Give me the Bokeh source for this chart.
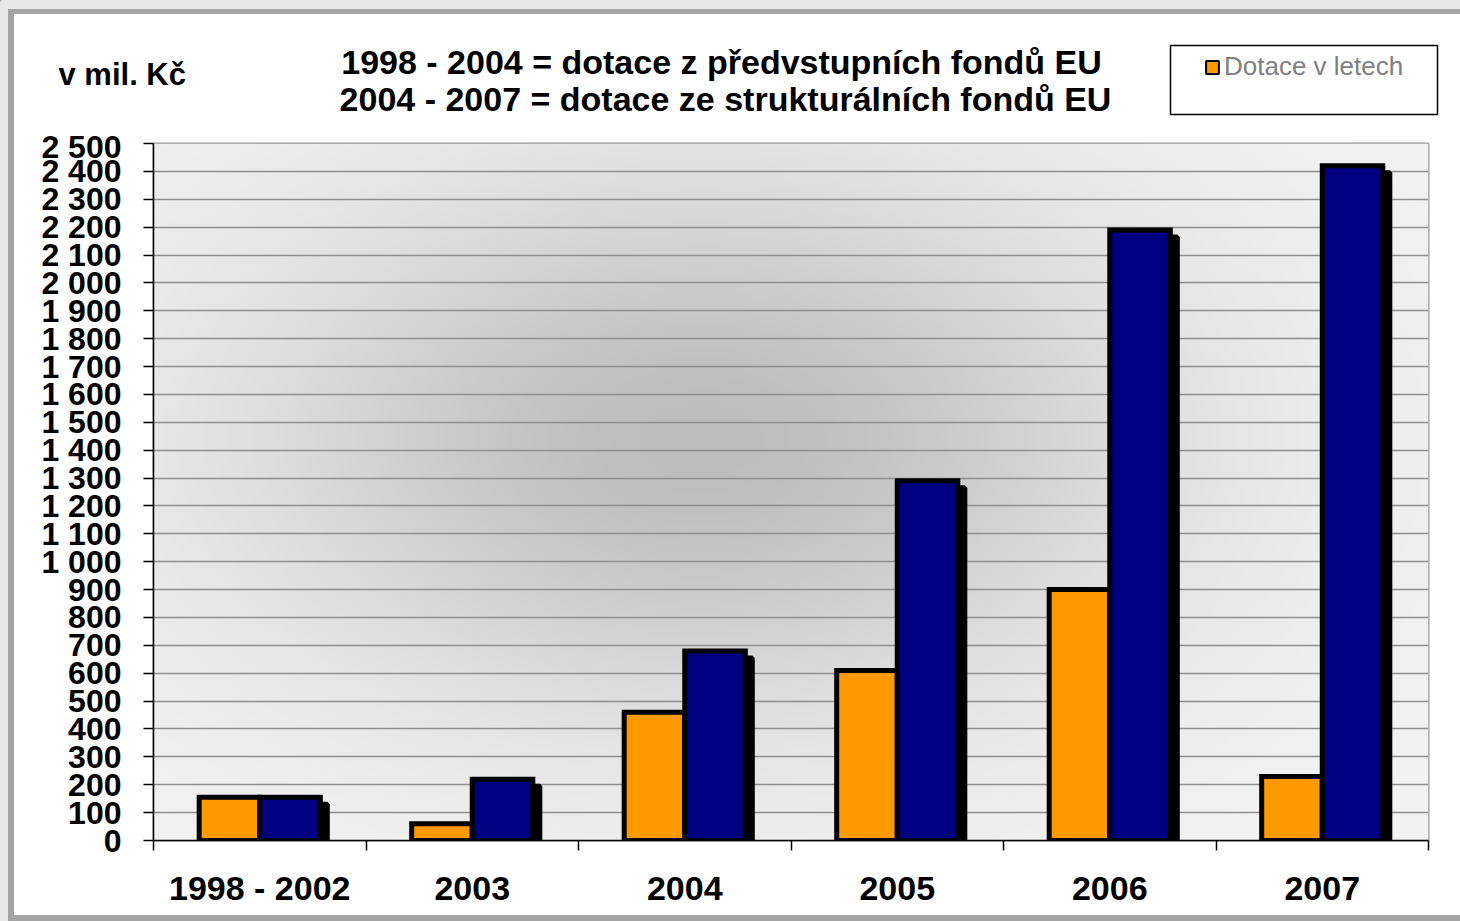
import numpy as np
from bokeh.plotting import figure
from bokeh.layouts import column
from bokeh.models import Range1d, FixedTicker, Legend, LegendItem, ColumnDataSource
from bokeh.core.properties import value
from bokeh.transform import dodge
from bokeh.embed import file_html
from bokeh.resources import INLINE

# ---- data ----
categories = ["1998 - 2002", "2003", "2004", "2005", "2006", "2007"]
dotace_v_letech = [155, 60, 460, 610, 900, 230]         # orange
dotace_kumulativne = [155, 220, 680, 1290, 2190, 2420]  # navy
y_ticks = list(range(0, 2501, 100))
y_tick_labels = ["0", "100", "200", "300", "400", "500", "600", "700", "800", "900",
                 "1 000", "1 100", "1 200", "1 300", "1 400", "1 500", "1 600", "1 700",
                 "1 800", "1 900", "2 000", "2 100", "2 200", "2 300", "2 400", "2 500"]
title_lines = ["1998 - 2004 = dotace z předvstupních fondů EU",
               "2004 - 2007 = dotace ze strukturálních fondů EU"]
unit_label = "v mil. Kč"
legend_label = "Dotace v letech"

FONT = "Liberation Sans"
W = 1460
H_HEAD = 128
H_MAIN = 921 - H_HEAD

# ---------------- header (titles, unit, legend) ----------------
head = figure(width=W, height=H_HEAD, x_range=Range1d(0, W), y_range=Range1d(H_HEAD, 0),
              x_axis_type=None, y_axis_type=None, output_backend="svg",
              toolbar_location=None, min_border=0)
head.frame_align = False
head.outline_line_color = None
head.grid.visible = False
head.background_fill_alpha = 0
head.border_fill_alpha = 0

head.text(x=[721, 725], y=[61, 98], text=title_lines, text_align="center",
          text_baseline="middle", text_font=value(FONT), text_font_style="bold",
          text_font_size="34px", text_color="black")
head.text(x=[58], y=[74], text=[unit_label], text_align="left",
          text_baseline="middle", text_font=value(FONT), text_font_style="bold",
          text_font_size="31px", text_color="black")

# legend frame (decoration)
head.quad(left=[1170], right=[1437], top=[45], bottom=[114],
          fill_color="white", line_color="black", line_width=1.5)
# legend proxy for the orange series (kept outside the visible header range)
leg_r = head.vbar(x=[-500], top=[-400], bottom=[-450], width=1, fill_color="#FF9900",
                  line_color="black", line_width=2)
legend = Legend(items=[LegendItem(label=legend_label, renderers=[leg_r])],
                location=(1204, H_HEAD - 82), orientation="vertical",
                padding=0, margin=0, spacing=0,
                glyph_width=16, glyph_height=16, label_standoff=4,
                label_height=16,
                label_text_font=FONT, label_text_font_size="26px",
                label_text_color="#808080",
                border_line_color=None, background_fill_alpha=0)
head.add_layout(legend)

# ---------------- main chart ----------------
n = len(categories)
centers = [i + 0.5 for i in range(n)]
ML, MR, MT, MB = 153, 32, 15, 81
FW, FH = W - ML - MR, H_MAIN - MT - MB

p = figure(width=W, height=H_MAIN, x_range=Range1d(0, n), y_range=Range1d(0, 2500),
           output_backend="svg", toolbar_location=None,
           min_border_left=ML, min_border_right=MR, min_border_top=MT, min_border_bottom=MB)
p.frame_align = False
p.background_fill_color = "#f0f0f0"
p.border_fill_alpha = 0
p.outline_line_color = "#9a9a9a"
p.outline_line_width = 2

# radial gradient background of the plot area
nx, ny = 320, 180
X, Y = np.meshgrid(np.linspace(0, 1, nx), np.linspace(0, 1, ny))
cx, cy = (700 - 153) / 1275.0, (840 - 440) / 697.0
r2 = ((X - cx) / 0.50) ** 2 + ((Y - cy) / 0.55) ** 2
g = np.clip(243 - 54 * np.exp(-2.0 * r2), 0, 255).astype(np.uint32)
img = ((255 << 24) | (g << 16) | (g << 8) | g).astype(np.uint32)
p.image_rgba(image=[img], x=0, y=0, dw=n, dh=2500, level="image")

p.xgrid.visible = False
p.ygrid.ticker = FixedTicker(ticks=y_ticks)
p.ygrid.grid_line_color = "#8e8e8e"
p.ygrid.grid_line_width = 1.6
p.ygrid.level = "image"

p.yaxis.ticker = FixedTicker(ticks=y_ticks)
p.yaxis.major_label_overrides = {t: s for t, s in zip(y_ticks, y_tick_labels)}
p.yaxis.major_label_text_font = FONT
p.yaxis.major_label_text_font_style = "bold"
p.yaxis.major_label_text_font_size = "32px"
p.yaxis.major_label_text_color = "black"
p.yaxis.major_label_standoff = 22
p.yaxis.major_tick_out = 10
p.yaxis.major_tick_in = 0
p.yaxis.minor_tick_out = 0
p.yaxis.minor_tick_in = 0
p.yaxis.axis_line_color = "black"
p.yaxis.axis_line_width = 1.5
p.yaxis.major_tick_line_color = "black"
p.yaxis.major_tick_line_width = 1.5

p.xaxis.ticker = FixedTicker(ticks=centers, minor_ticks=list(range(n + 1)))
p.xaxis.major_label_overrides = {c: s for c, s in zip(centers, categories)}
p.xaxis.major_label_text_font = FONT
p.xaxis.major_label_text_font_style = "bold"
p.xaxis.major_label_text_font_size = "34px"
p.xaxis.major_label_text_color = "black"
p.xaxis.major_label_standoff = 18
p.xaxis.major_tick_out = 0
p.xaxis.major_tick_in = 0
p.xaxis.minor_tick_out = 10
p.xaxis.minor_tick_in = 0
p.xaxis.minor_tick_line_color = "black"
p.xaxis.minor_tick_line_width = 1.5
p.xaxis.axis_line_color = "black"
p.xaxis.axis_line_width = 1.5

bw = 0.285
off = bw / 2
sdx = 7 * n / FW
sdy = 7 * 2500 / FH
src = ColumnDataSource(dict(
    x=centers,
    a=dotace_v_letech,
    b=dotace_kumulativne,
    a_sh=[v - sdy for v in dotace_v_letech],
    b_sh=[v - sdy for v in dotace_kumulativne],
))
p.vbar(x=dodge("x", -off + sdx), top="a_sh", bottom=0, width=bw, source=src,
       fill_color="black", line_color="black", line_width=5)
p.vbar(x=dodge("x", off + sdx), top="b_sh", bottom=0, width=bw, source=src,
       fill_color="black", line_color="black", line_width=5)
p.vbar(x=dodge("x", -off), top="a", bottom=0, width=bw, source=src,
       fill_color="#FF9900", line_color="black", line_width=5, line_join="miter")
p.vbar(x=dodge("x", off), top="b", bottom=0, width=bw, source=src,
       fill_color="#000080", line_color="black", line_width=5, line_join="miter")

layout = column(head, p, spacing=0, styles={
    "background-color": "white",
    "box-shadow": "inset 8px 9px 0 0 #e8e8e8, inset 14px 14px 0 0 #a4a4a4, "
                  "inset 0 -6px 0 0 #a4a4a4",
})

open("out.html", "w").write(file_html(layout, INLINE))
